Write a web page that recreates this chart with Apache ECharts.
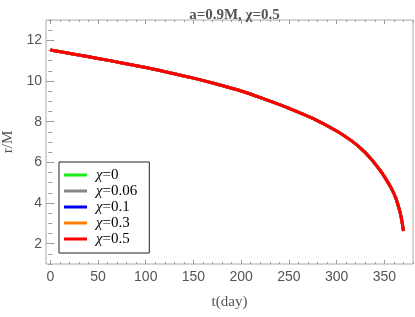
<!DOCTYPE html>
<html>
<head>
<meta charset="utf-8">
<script src="https://cdn.jsdelivr.net/npm/echarts@6/dist/echarts.min.js"></script>
<style>html,body{margin:0;padding:0;background:#fff}#c{width:415px;height:317px}</style>
</head>
<body>
<div id="c"></div>
<script>
// Data
var tDays = [0, 25, 50, 75, 100, 125, 150, 175, 200, 225, 250, 275, 300, 315, 325, 335, 345, 352, 358, 362, 366, 368, 370];
var rChi05 = [11.52, 11.32, 11.11, 10.89, 10.66, 10.41, 10.14, 9.84, 9.51, 9.1, 8.66, 8.16, 7.54, 7.08, 6.7, 6.23, 5.64, 5.15, 4.66, 4.24, 3.62, 3.2, 2.62];
var seriesNames = ['χ=0', 'χ=0.06', 'χ=0.1', 'χ=0.3', 'χ=0.5'];
var seriesColors = ['#19ee19', '#888888', '#0000ee', '#ff8000', '#ff0000'];
// curves for all χ coincide with the visible red curve (drawn underneath)
var seriesValues = [rChi05, rChi05, rChi05, rChi05, rChi05];
var xMajor = [0, 50, 100, 150, 200, 250, 300, 350];
var xMinor = [];
for (var v = 0; v <= 380; v += 10) if (v % 50 !== 0) xMinor.push(v);
var yMajor = [2, 4, 6, 8, 10, 12];
var yMinor = [];
for (var w = 1; w <= 13; w += 0.5) if (w % 2 !== 0) yMinor.push(w);

var X_MIN = -4.5, X_MAX = 380, Y_MIN = 1, Y_MAX = 13;
var labelStyle = {color: '#555', fontFamily: 'Liberation Sans, Arial, sans-serif', fontSize: 14};
var tickLine = {color: '#999', width: 1};

function xAx(pos, vals, len, labels) {
  return {
    type: 'value', position: pos, min: X_MIN, max: X_MAX,
    axisLine: {show: false}, splitLine: {show: false},
    axisTick: {show: true, inside: true, length: len, lineStyle: tickLine, customValues: vals},
    axisLabel: labels ? Object.assign({show: true, margin: 6, customValues: vals}, labelStyle) : {show: false}
  };
}
function yAx(pos, vals, len, labels) {
  return {
    type: 'value', position: pos, min: Y_MIN, max: Y_MAX,
    axisLine: {show: false}, splitLine: {show: false},
    axisTick: {show: true, inside: true, length: len, lineStyle: tickLine, customValues: vals},
    axisLabel: labels ? Object.assign({show: true, margin: 4, customValues: vals}, labelStyle) : {show: false}
  };
}

var xAxes = [xAx('bottom', xMajor, 4, true), xAx('bottom', xMinor, 2, false), xAx('top', xMajor, 4, false), xAx('top', xMinor, 2, false)];
xAxes[0].name = 't(day)';
xAxes[0].nameLocation = 'middle';
xAxes[0].nameGap = 31;
xAxes[0].nameTextStyle = {color: '#555', fontFamily: 'Liberation Serif, Times New Roman, serif', fontSize: 15};
var yAxes = [yAx('left', yMajor, 4, true), yAx('left', yMinor, 2, false), yAx('right', yMajor, 4, false), yAx('right', yMinor, 2, false)];
yAxes[0].name = 'r/M';
yAxes[0].nameLocation = 'middle';
yAxes[0].nameGap = 30;
yAxes[0].nameTextStyle = {color: '#555', fontFamily: 'Liberation Serif, Times New Roman, serif', fontSize: 15};

var series = seriesNames.map(function (n, i) {
  return {
    name: n, type: 'line', xAxisIndex: 0, yAxisIndex: 0,
    data: tDays.map(function (t, k) { return [t, seriesValues[i][k]]; }),
    showSymbol: false, smooth: 0.35, z: 2 + i,
    lineStyle: {color: seriesColors[i], width: 3},
    itemStyle: {color: seriesColors[i]}
  };
});

var chart = echarts.init(document.getElementById('c'), null, {renderer: 'canvas'});
chart.setOption({
  animation: false,
  backgroundColor: '#fff',
  title: {
    text: 'a=0.9M, χ=0.5', left: 229.5, top: 3, textAlign: 'center',
    textStyle: {color: '#555', fontFamily: 'Liberation Serif, Times New Roman, serif', fontSize: 15, fontWeight: 'bold'}
  },
  grid: {left: 46, top: 20, right: 2, bottom: 53, containLabel: false, outerBoundsMode: 'none', show: true, borderColor: '#aaa', borderWidth: 1, backgroundColor: 'transparent'},
  xAxis: xAxes,
  yAxis: yAxes,
  legend: {
    left: 59, top: 162, orient: 'vertical',
    backgroundColor: '#fff', borderColor: '#222', borderWidth: 1,
    padding: [5, 12, 6, 5], itemGap: 0,
    itemWidth: 23, itemHeight: 3, icon: 'rect',
    data: seriesNames,
    formatter: function (n) { return '{i|χ}{n|' + n.slice(1) + '}'; },
    textStyle: {
      color: '#000', fontSize: 15, lineHeight: 16, padding: [0, 0, 0, 4],
      rich: {
        i: {fontFamily: 'Liberation Serif, Times New Roman, serif', fontStyle: 'italic', fontSize: 15, color: '#000'},
        n: {fontFamily: 'Liberation Serif, Times New Roman, serif', fontSize: 15, color: '#000'}
      }
    }
  },
  series: series
});
</script>
</body>
</html>
